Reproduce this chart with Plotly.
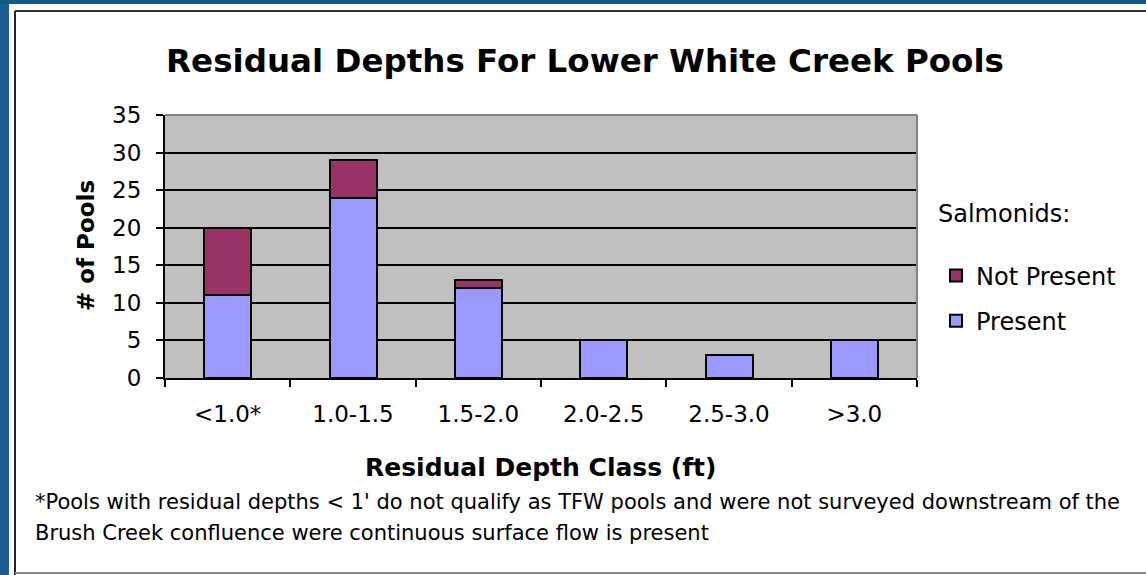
import plotly.graph_objects as go

categories = ["<1.0*", "1.0-1.5", "1.5-2.0", "2.0-2.5", "2.5-3.0", ">3.0"]
present = [11, 24, 12, 5, 3, 5]
not_present = [9, 5, 1, 0, 0, 0]
y_ticks = [0, 5, 10, 15, 20, 25, 30, 35]

W, H = 1146, 575
L, R, T, B = 165, 917, 115, 378
pw, ph = R - L, B - T


def px(x):
    return (x - L) / pw


def py(y):
    return (B - y) / ph


FONT = "DejaVu Sans, Verdana, sans-serif"

fig = go.Figure()
fig.add_trace(go.Bar(
    x=categories, y=present, name="Present", legendgroup="p", legendrank=2,
    marker=dict(color="#9999FF", line=dict(color="black", width=2)),
))
fig.add_trace(go.Bar(
    x=categories, y=not_present, name="Not Present", legendgroup="n", legendrank=1,
    marker=dict(color="#993366", line=dict(color="black", width=2)),
))

tick_font = dict(family=FONT, size=23, color="black")

fig.update_layout(
    width=W, height=H,
    margin=dict(l=L, r=W - R, t=T, b=H - B),
    paper_bgcolor="white",
    plot_bgcolor="#C0C0C0",
    barmode="stack",
    bargap=0.625,
    showlegend=True,
    title=dict(
        text="<b>Residual Depths For Lower White Creek Pools</b>",
        font=dict(family=FONT, size=32.5, color="black"),
        x=585 / W, xanchor="center", xref="container",
        y=1 - 61 / H, yanchor="middle", yref="container",
    ),
    legend=dict(
        title=dict(text="Salmonids:<br> ", font=dict(family=FONT, size=24, color="black")),
        font=dict(family=FONT, size=24, color="black"),
        traceorder="grouped",
        tracegroupgap=11,
        x=px(936), xanchor="left", xref="paper",
        y=py(191), yanchor="top", yref="paper",
        bgcolor="rgba(0,0,0,0)",
        itemwidth=30,
    ),
    xaxis=dict(
        showline=True, linecolor="black", linewidth=2,
        ticks="outside", tickson="boundaries", ticklen=7, tickwidth=2, tickcolor="black",
        tickfont=tick_font, ticklabelstandoff=14,
        showgrid=False,
    ),
    yaxis=dict(
        range=[0, 35], tickvals=y_ticks,
        showline=True, linecolor="black", linewidth=2,
        ticks="outside", ticklen=7, tickwidth=2, tickcolor="black",
        tickfont=tick_font, ticklabelstandoff=10,
        showgrid=True, gridcolor="black", gridwidth=2,
        zeroline=False,
    ),
    font=dict(family=FONT, color="black"),
)

# Axis titles
fig.add_annotation(
    text="<b>Residual Depth Class (ft)</b>", xref="paper", yref="paper",
    x=px(540), y=py(467), xanchor="center", yanchor="middle", showarrow=False,
    font=dict(family=FONT, size=25, color="black"),
)
fig.add_annotation(
    text="<b># of Pools</b>", xref="paper", yref="paper", textangle=-90,
    x=px(86), y=py(246), xanchor="center", yanchor="middle", showarrow=False,
    font=dict(family=FONT, size=23, color="black"),
)
# Footnote
foot_lines = [
    "*Pools with residual depths &lt; 1' do not qualify as TFW pools and were not surveyed downstream of the",
    "Brush Creek confluence were continuous surface flow is present",
]
for line, yy in zip(foot_lines, [502, 533]):
    fig.add_annotation(
        text=line, xref="paper", yref="paper", x=px(33), y=py(yy),
        xanchor="left", yanchor="middle", align="left", showarrow=False,
        font=dict(family=FONT, size=21, color="black"),
    )

# Plot area top/right light border
fig.add_shape(type="line", xref="paper", yref="paper", x0=0, x1=1, y0=1, y1=1,
              line=dict(color="#808080", width=2))
fig.add_shape(type="line", xref="paper", yref="paper", x0=1, x1=1, y0=0, y1=1,
              line=dict(color="#808080", width=2))

# Chart frame and background strips
fig.add_shape(type="rect", xref="paper", yref="paper",
              x0=px(0), x1=px(9), y0=py(H), y1=py(0),
              fillcolor="#1B5E96", line=dict(width=0), layer="below")
fig.add_shape(type="rect", xref="paper", yref="paper",
              x0=px(0), x1=px(W), y0=py(4), y1=py(0),
              fillcolor="#135A8C", line=dict(width=0), layer="below")
fig.add_shape(type="line", xref="paper", yref="paper",
              x0=px(15), x1=px(W), y0=py(11), y1=py(11),
              line=dict(color="#333333", width=2))
fig.add_shape(type="line", xref="paper", yref="paper",
              x0=px(15), x1=px(15), y0=py(11), y1=py(H),
              line=dict(color="#222222", width=2))
fig.add_shape(type="line", xref="paper", yref="paper",
              x0=px(15), x1=px(W), y0=py(573), y1=py(573),
              line=dict(color="#888888", width=2))

fig.write_html(
    "out.html",
    config={"displayModeBar": False},
    post_script="document.body.style.margin='0';document.body.style.overflow='hidden';",
)
